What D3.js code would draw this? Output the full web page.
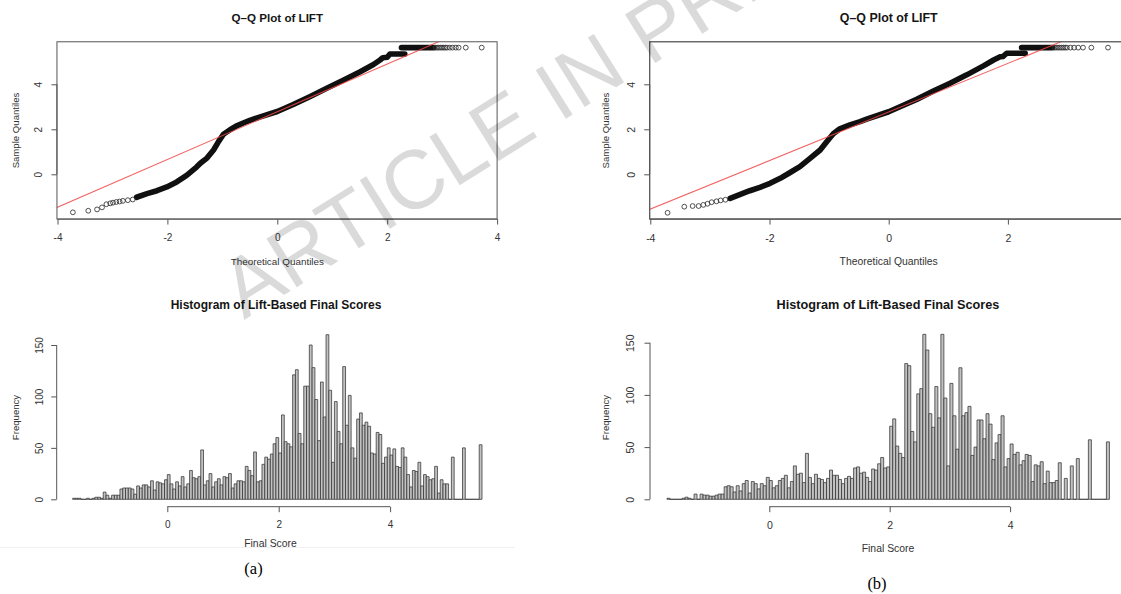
<!DOCTYPE html>
<html><head><meta charset="utf-8">
<script src="https://cdn.jsdelivr.net/npm/d3@7"></script>
<style>
body{margin:0;background:#fff;}
svg{display:block;}
</style></head><body>
<svg id="chart" width="1121" height="594"></svg>
<script>
// ---------------- DATA ----------------
const histBinStart = -1.70;
const histBinWidth = 0.05;
const histCountsA = [1,1,1,0,0,1,0,1,2,2, 1,7,4,1,4,4,4,10,11,11, 11,10,5,13,11,14,14,12,18,9,
 17,16,15,19,24,15,10,17,13,22, 12,15,28,21,20,22,48,14,18,25, 12,17,20,14,22,21,25,11,15,18,
 18,17,32,28,23,46,17,18,34,41, 39,44,54,60,45,82,56,54,51,121, 126,64,54,110,110,150,128,97,57,114,
 80,160,106,36,95,66,54,129,72,101, 50,40,78,84,72,75,71,45,44,65, 63,35,41,50,43,49,32,31,50,41,
 24,12,28,27,36,13,24,22,19,20, 32,6,19,15,15,0,41,0,0,0, 50,0,0,0,0,0,53];
const histCountsB = [1,0,0,0,0,1,2,1,0,5, 0,5,4,4,3,3,4,5,5,12, 13,12,7,13,8,15,18,6,17,15,
 10,15,13,21,18,11,13,18,20,23, 11,17,32,24,25,16,44,21,15,24, 20,19,16,20,28,23,23,19,15,20,
 22,20,30,31,25,26,21,17,29,28, 34,40,30,31,70,77,51,44,40,130, 128,65,55,101,106,158,143,82,69,108,
 78,158,97,32,111,80,48,126,80,83, 89,42,50,76,76,58,82,72,38,54, 62,80,31,39,53,43,45,33,37,43,
 42,17,33,32,36,15,27,16,16,18, 35,0,20,0,32,0,39,0,0,0, 57,0,0,0,0,0,55];
const histYTicks = [0, 50, 100, 150];
const histXTicks = [0, 2, 4];
const qqXTicksA = [-4, -2, 0, 2, 4];
const qqXTicksB = [-4, -2, 0, 2];   // the "4" tick of panel (b) lies beyond the image edge
const qqYTicks = [0, 2, 4];

// Q-Q panel (a)
const qqLowTheoA = [-3.72,-3.44,-3.28,-3.19,-3.11,-3.04,-2.99,-2.93,-2.87,-2.81,-2.72,-2.63];
const qqLowSampleA = [-1.69,-1.62,-1.56,-1.47,-1.33,-1.29,-1.26,-1.23,-1.21,-1.18,-1.15,-1.12];
const qqCurveTheoA = [-2.56,-2.37,-2.19,-2.01,-1.83,-1.65,-1.47,-1.40,-1.28,-1.16,-1.07,-0.98,-0.86,-0.75,-0.62,-0.50,-0.31,0.00,0.29,0.59,0.90,1.20,1.50,1.75,1.87,1.92,2.00,2.05,2.32];
const qqCurveSampleA = [-1.02,-0.86,-0.73,-0.56,-0.34,-0.05,0.32,0.49,0.72,1.08,1.45,1.78,1.98,2.14,2.28,2.40,2.55,2.79,3.10,3.45,3.82,4.18,4.55,4.88,5.08,5.18,5.20,5.35,5.35];
const qqTopTheoA = [2.26, 2.85];
const qqTopSampleA = [5.63, 5.63];
const qqHighTheoA = [2.88,2.91,2.94,2.97,3.00,3.03,3.06,3.09,3.14,3.19,3.25,3.30,3.43,3.72];
const qqHighSampleA = [5.63,5.63,5.63,5.63,5.63,5.63,5.63,5.63,5.63,5.63,5.63,5.63,5.63,5.63];
const qqLineA = [2.78, 1.06]; // intercept, slope

// Q-Q panel (b)
const qqLowTheoB = [-3.71,-3.43,-3.29,-3.19,-3.11,-3.04,-2.97,-2.89,-2.82,-2.74];
const qqLowSampleB = [-1.71,-1.44,-1.41,-1.41,-1.36,-1.31,-1.24,-1.20,-1.16,-1.13];
const qqCurveTheoB = [-2.66,-2.49,-2.33,-2.16,-1.99,-1.82,-1.66,-1.49,-1.32,-1.15,-1.04,-0.93,-0.82,-0.65,-0.48,-0.37,0.00,0.19,0.47,0.75,1.03,1.31,1.59,1.76,1.87,1.92,1.98,2.29];
const qqCurveSampleB = [-1.07,-0.89,-0.73,-0.58,-0.40,-0.18,0.07,0.34,0.71,1.08,1.45,1.80,2.02,2.20,2.34,2.45,2.78,3.00,3.33,3.70,4.05,4.42,4.82,5.08,5.22,5.24,5.38,5.38];
const qqTopTheoB = [2.23, 2.75];
const qqTopSampleB = [5.63, 5.63];
const qqHighTheoB = [2.78,2.81,2.84,2.87,2.90,2.93,2.96,2.99,3.05,3.11,3.18,3.26,3.40,3.68];
const qqHighSampleB = [5.63,5.63,5.63,5.63,5.63,5.63,5.63,5.63,5.63,5.63,5.63,5.63,5.63,5.63];
const qqLineB = [2.77, 1.08];

const titleQQ = "Q\u2013Q Plot of LIFT";
const titleHist = "Histogram of Lift-Based Final Scores";
const labelTheo = "Theoretical Quantiles";
const labelSample = "Sample Quantiles";
const labelFreq = "Frequency";
const labelScore = "Final Score";
const panelLabels = ["(a)", "(b)"];
const watermark = "ARTICLE IN PRESS";

// ---------------- DRAW ----------------
const FONT = "'Liberation Sans', Arial, Helvetica, sans-serif";
const AXIS = "#555";
const TXT = "#333";
const svg = d3.select("#chart");
svg.append("rect").attr("width",1121).attr("height",594).attr("fill","#fff");

// faint image border under panel (a)
svg.append("line").attr("x1",0).attr("x2",515).attr("y1",547.5).attr("y2",547.5)
  .attr("stroke","#f1f1f1").attr("stroke-width",1);

function xAxis(g, scale, ticks, lineEnd, y, fs, pad) {
  const a = g.append("g").attr("transform", `translate(0,${y})`)
    .call(d3.axisBottom(scale).tickValues(ticks).tickSize(5.5).tickSizeOuter(0).tickPadding(pad).tickFormat(d => String(d)));
  a.attr("font-family", FONT).attr("font-size", fs);
  a.select(".domain").remove();
  a.append("line").attr("x1", scale(ticks[0])).attr("x2", scale(lineEnd))
    .attr("stroke", AXIS).attr("stroke-width", 1);
  a.selectAll(".tick line").attr("stroke", AXIS);
  a.selectAll(".tick text").attr("fill", TXT);
}
function yAxis(g, scale, ticks, x, fs, off) {
  const a = g.append("g").attr("transform", `translate(${x},0)`)
    .call(d3.axisLeft(scale).tickValues(ticks).tickSize(5.5).tickSizeOuter(0).tickFormat(d => String(d)));
  a.attr("font-family", FONT).attr("font-size", fs);
  a.select(".domain").remove();
  a.append("line").attr("y1", scale(ticks[0])).attr("y2", scale(ticks[ticks.length-1]))
    .attr("stroke", AXIS).attr("stroke-width", 1);
  a.selectAll(".tick line").attr("stroke", AXIS);
  a.selectAll(".tick text").attr("fill", TXT).attr("x", 0).attr("dy", "0.35em")
    .attr("text-anchor", "middle").attr("transform", `translate(${-off},0) rotate(-90)`);
}
function text(g, s, x, y, fs, opts = {}) {
  const t = g.append("text").attr("x", x).attr("y", y).text(s)
    .attr("font-family", opts.family || FONT).attr("font-size", fs)
    .attr("text-anchor", "middle").attr("fill", opts.fill || TXT);
  if (opts.bold) t.attr("font-weight", "bold");
  if (opts.rot) t.attr("transform", `rotate(-90,${x},${y})`);
  return t;
}

function qqPanel(cfg) {
  const g = svg.append("g");
  const X = d3.scaleLinear().domain([-4, 0]).range([cfg.x0, cfg.xZero]);
  const Y = d3.scaleLinear().domain([0, 4]).range([174.3, 84.3]);
  const bx0 = X(-4.01), bx1 = X(4.0), by0 = Y(5.89), by1 = Y(-1.99);
  const clipId = "clip" + cfg.id;
  svg.append("clipPath").attr("id", clipId).append("rect")
    .attr("x", bx0).attr("y", by0).attr("width", bx1 - bx0).attr("height", by1 - by0);
  const pts = g.append("g");
  const line = d3.line().x(d => X(d[0])).y(d => Y(d[1]));
  // dense runs of overlapping points
  [[cfg.curveT, cfg.curveS], [cfg.topT, cfg.topS]].forEach(([t, s]) => {
    pts.append("path").attr("d", line(t.map((v, i) => [v, s[i]])))
      .attr("fill", "none").attr("stroke", "#111").attr("stroke-width", 5.6)
      .attr("stroke-linejoin", "round").attr("stroke-linecap", "round");
  });
  // isolated points
  [[cfg.lowT, cfg.lowS], [cfg.highT, cfg.highS]].forEach(([t, s]) => {
    pts.selectAll(null).data(t.map((v, i) => [v, s[i]])).enter().append("circle")
      .attr("cx", d => X(d[0])).attr("cy", d => Y(d[1])).attr("r", 2.4)
      .attr("fill", "none").attr("stroke", "#333").attr("stroke-width", 0.85);
  });
  // reference line
  const [b0, b1] = cfg.qqline;
  g.append("line").attr("clip-path", `url(#${clipId})`)
    .attr("x1", X(-4.2)).attr("y1", Y(b0 + b1 * -4.2)).attr("x2", X(4.2)).attr("y2", Y(b0 + b1 * 4.2))
    .attr("stroke", "#f04848").attr("stroke-width", 1.1).attr("opacity", 0.85);
  // box
  g.append("rect").attr("x", bx0).attr("y", by0).attr("width", bx1 - bx0).attr("height", by1 - by0)
    .attr("fill", "none").attr("stroke", AXIS).attr("stroke-width", cfg.boxW);
  xAxis(g, X, cfg.xTicks, 4, by1, cfg.tickFs, 9.5);
  yAxis(g, Y, qqYTicks, bx0, cfg.tickFs, 18.3);
  text(g, titleQQ, X(0), 21.6, cfg.titleFs, {bold: true, fill: "#151515"});
  text(g, labelTheo, X(0), 264.5, cfg.labFs);
  text(g, labelSample, cfg.ylabX, 130.5, 9.6, {rot: true}).attr("dy", "0.35em");
}

function histPanel(cfg) {
  const g = svg.append("g");
  const X = d3.scaleLinear().domain([0, 4]).range([cfg.xZero, cfg.xFour]);
  const Y = d3.scaleLinear().domain([0, 150]).range([499.3, cfg.y150]);
  g.selectAll(null).data(cfg.counts).enter().append("path")
    .attr("d", (c, i) => {
      const a = histBinStart + i * histBinWidth, b = a + histBinWidth;
      return `M${X(a)},${Y(0)}V${Y(c)}H${X(b)}V${Y(0)}Z`;
    })
    .attr("fill", "#c2c2c2").attr("stroke", "#333").attr("stroke-width", 0.75);
  xAxis(g, X, histXTicks, 4, 506.7, cfg.tickFs, 9);
  yAxis(g, Y, histYTicks, cfg.yAxisX, cfg.tickFs, cfg.yOff);
  text(g, titleHist, cfg.titleX, 309.2, cfg.titleFs, {bold: true, fill: "#151515"});
  text(g, labelScore, cfg.labX, cfg.labY, 10.4);
  text(g, labelFreq, cfg.ylabX, 417.5, 9.6, {rot: true}).attr("dy", "0.35em");
}

qqPanel({id: "A", x0: 57.5, xZero: 277.3, xTicks: qqXTicksA, curveT: qqCurveTheoA, curveS: qqCurveSampleA,
  topT: qqTopTheoA, topS: qqTopSampleA, lowT: qqLowTheoA, lowS: qqLowSampleA,
  highT: qqHighTheoA, highS: qqHighSampleA, qqline: qqLineA, boxW: 1,
  tickFs: 10, titleFs: 11.6, labFs: 9.9, ylabX: 15.3});
qqPanel({id: "B", x0: 650.3, xZero: 888.7, xTicks: qqXTicksB, curveT: qqCurveTheoB, curveS: qqCurveSampleB,
  topT: qqTopTheoB, topS: qqTopSampleB, lowT: qqLowTheoB, lowS: qqLowSampleB,
  highT: qqHighTheoB, highS: qqHighSampleB, qqline: qqLineB, boxW: 1.3,
  tickFs: 10.5, titleFs: 12.4, labFs: 10.4, ylabX: 605.5});

histPanel({counts: histCountsA, xZero: 167.3, xFour: 390.1, y150: 345, yAxisX: 56.7, yOff: 17.7,
  tickFs: 10, titleFs: 12, titleX: 276, labX: 270.5, labY: 546.6, ylabX: 15.3});
histPanel({counts: histCountsB, xZero: 769.3, xFour: 1010.1, y150: 342.7, yAxisX: 650, yOff: 20,
  tickFs: 10.5, titleFs: 12.7, titleX: 888, labX: 888, labY: 552, ylabX: 605.3});

text(svg, panelLabels[0], 253.5, 574, 16.5, {family: "'Liberation Serif', 'Times New Roman', serif", fill: "#000"});
text(svg, panelLabels[1], 877, 589, 16.5, {family: "'Liberation Serif', 'Times New Roman', serif", fill: "#000"});

// watermark
svg.append("text").text(watermark).attr("x", 0).attr("y", 0)
  .attr("transform", "translate(244,320) rotate(-32)")
  .attr("font-family", FONT).attr("font-size", 83).attr("fill", "#000").attr("opacity", 0.14);
</script>
</body></html>
